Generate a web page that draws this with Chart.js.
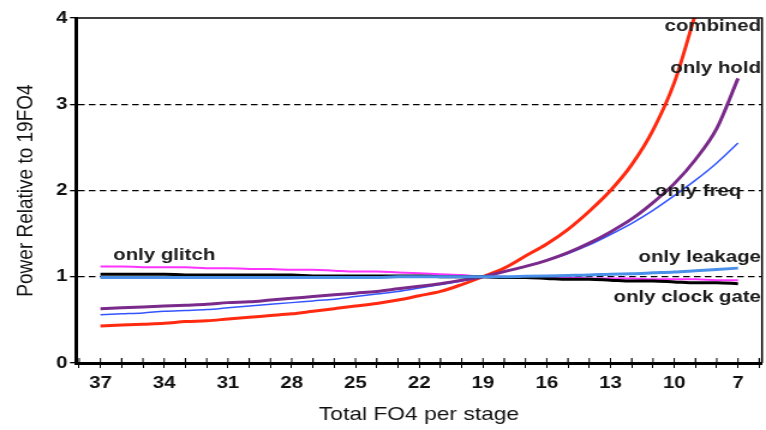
<!DOCTYPE html>
<html>
<head>
<meta charset="utf-8">
<script src="https://cdn.jsdelivr.net/npm/chart.js@4.4.1/dist/chart.umd.min.js"></script>
<style>
html,body{margin:0;padding:0;background:#fff;overflow:hidden;}
#wrap{width:766px;height:430px;}
#c{display:block;width:766px;height:430px;}
</style>
</head>
<body>
<div id="wrap"><canvas id="c" width="638" height="430" style="width:766px;height:430px"></canvas></div>
<script>
// FO4 per stage (x) values
const fo4 = [37,36,35,34,33,32,31,30,29,28,27,26,25,24,23,22,21,20,19,18,17,16,15,14,13,12,11,10,9,8,7];
const xTickLabels = [37,34,31,28,25,22,19,16,13,10,7];
const yTickLabels = [0,1,2,3,4];

const combined = [0.43,0.44,0.45,0.46,0.48,0.49,0.51,0.53,0.55,0.57,0.60,0.63,0.66,0.69,0.73,0.78,0.83,0.91,1.00,1.10,1.24,1.38,1.55,1.76,2.00,2.30,2.70,3.25,4.05];
const onlyHold = [0.63,0.64,0.65,0.66,0.67,0.68,0.70,0.71,0.73,0.75,0.77,0.79,0.81,0.83,0.86,0.89,0.92,0.96,1.00,1.06,1.12,1.19,1.28,1.39,1.52,1.67,1.86,2.08,2.36,2.72,3.30];
const onlyFreq = [0.56,0.57,0.58,0.60,0.61,0.62,0.64,0.66,0.68,0.70,0.72,0.74,0.77,0.80,0.83,0.87,0.91,0.95,1.00,1.06,1.12,1.19,1.27,1.37,1.49,1.62,1.77,1.94,2.12,2.32,2.55];
const onlyLeakage = [0.99,0.99,0.99,0.99,0.99,0.99,0.99,0.99,0.99,0.99,0.99,0.99,0.99,0.99,1.00,1.00,1.00,1.00,1.00,1.00,1.005,1.01,1.015,1.02,1.03,1.035,1.045,1.055,1.07,1.085,1.10];
const onlyGlitch = [1.12,1.12,1.11,1.11,1.11,1.10,1.10,1.09,1.09,1.08,1.08,1.07,1.06,1.06,1.05,1.04,1.03,1.02,1.00,1.00,0.99,0.99,0.99,0.98,0.98,0.98,0.97,0.97,0.97,0.96,0.96];
const onlyClockGate = [1.03,1.03,1.03,1.03,1.02,1.02,1.02,1.02,1.02,1.02,1.01,1.01,1.01,1.01,1.01,1.01,1.00,1.00,1.00,0.99,0.99,0.98,0.97,0.97,0.96,0.95,0.95,0.94,0.93,0.93,0.92];

const seriesNames = ["only leakage","only clock gate","only glitch","only freq","only hold","combined"];

function pts(arr){ return arr.map((v,i)=>({x:fo4[i], y:v})); }

const FAMILY = '"Liberation Sans", Arial, Helvetica, sans-serif';
const labelFont = 'bold 17px ' + FAMILY;
const annotations = [
  {text:"combined", x:5.92, y:3.9, align:"right"},
  {text:"only hold", x:5.92, y:3.42, align:"right"},
  {text:"only freq", x:6.85, y:1.99, align:"right"},
  {text:"only leakage", x:5.92, y:1.22, align:"right"},
  {text:"only clock gate", x:5.92, y:0.76, align:"right"},
  {text:"only glitch", x:36.4, y:1.25, align:"left"}
];

const framePlugin = {
  id:'frame',
  afterDatasetsDraw(chart){
    const {ctx, chartArea:a, scales} = chart;
    ctx.save();
    ctx.strokeStyle = '#000';
    ctx.lineWidth = 1.5;
    ctx.beginPath();
    ctx.moveTo(a.left, a.top); ctx.lineTo(a.right, a.top); ctx.lineTo(a.right, a.bottom);
    ctx.stroke();
    // x ticks crossing upward into the plot
    for (let v = 6; v <= 38; v++) {
      const px = scales.x.getPixelForValue(v);
      ctx.lineWidth = ((38 - v) % 3 === 2) ? 1.2 : 1;
      ctx.beginPath(); ctx.moveTo(px, a.bottom); ctx.lineTo(px, a.bottom - 5); ctx.stroke();
    }
    ctx.font = labelFont;
    ctx.fillStyle = '#1a1a1a';
    ctx.textBaseline = 'middle';
    annotations.forEach(an=>{
      ctx.textAlign = an.align;
      ctx.fillText(an.text, scales.x.getPixelForValue(an.x), scales.y.getPixelForValue(an.y));
    });
    ctx.restore();
  }
};

new Chart(document.getElementById('c'), {
  type:'line',
  data:{
    datasets:[
      {label:seriesNames[0], data:pts(onlyLeakage), borderColor:'#4a90e8', borderWidth:3},
      {label:seriesNames[1], data:pts(onlyClockGate), borderColor:'#000000', borderWidth:3},
      {label:seriesNames[2], data:pts(onlyGlitch), borderColor:'#ff33ff', borderWidth:2},
      {label:seriesNames[4], data:pts(onlyHold), borderColor:'#7a2a8a', borderWidth:3},
      {label:seriesNames[3], data:pts(onlyFreq), borderColor:'#3355ff', borderWidth:1.5},
      {label:seriesNames[5], data:pts(combined), borderColor:'#ff2a10', borderWidth:3}
    ]
  },
  options:{
    responsive:false,
    animation:false,
    devicePixelRatio:1,
    elements:{ point:{radius:0}, line:{tension:0.4, cubicInterpolationMode:'monotone', fill:false} },
    layout:{ padding:{top:18, right:3.3, left:0, bottom:0} },
    plugins:{ legend:{display:false}, tooltip:{enabled:false} },
    scales:{
      x:{
        type:'linear', reverse:true, min:5.87, max:38.15,
        afterBuildTicks(axis){ axis.ticks = []; for(let v=6; v<=38; v++) axis.ticks.push({value:v}); },
        afterFit(axis){ axis.height = 67; },
        ticks:{
          autoSkip:false, maxRotation:0,
          callback:(v)=> xTickLabels.includes(v) ? String(v) : '',
          color:'#111',
          font:{family:FAMILY, size:17, weight:'bold'},
          padding:5
        },
        grid:{ drawOnChartArea:false, drawTicks:true, tickLength:5, color:'#000', tickWidth:1 },
        border:{ display:true, color:'#000', width:3 },
        title:{ display:true, text:'Total FO4 per stage', color:'#111',
          font:{family:FAMILY, size:19}, padding:{top:3} }
      },
      y:{
        min:0, max:4,
        afterBuildTicks(axis){ axis.ticks = yTickLabels.map(v=>({value:v})); },
        afterFit(axis){ axis.width = 63.3; },
        ticks:{ color:'#111', font:{family:FAMILY, size:17, weight:'bold'}, padding:2 },
        grid:{
          color:(c)=> (c.tick && (c.tick.value===0 || c.tick.value===4)) ? 'rgba(0,0,0,0)' : '#000',
          tickColor:'#000',
          lineWidth:1.3, tickLength:5, tickBorderDash:[0,0], tickWidth:1.3
        },
        border:{ display:true, color:'#000', width:3, dash:[5.5,3.5] },
        title:{ display:true, text:'Power Relative to 19FO4', color:'#111',
          font:{family:FAMILY, size:19}, padding:{top:10, bottom:0} }
      }
    }
  },
  plugins:[framePlugin]
});
</script>
</body>
</html>
